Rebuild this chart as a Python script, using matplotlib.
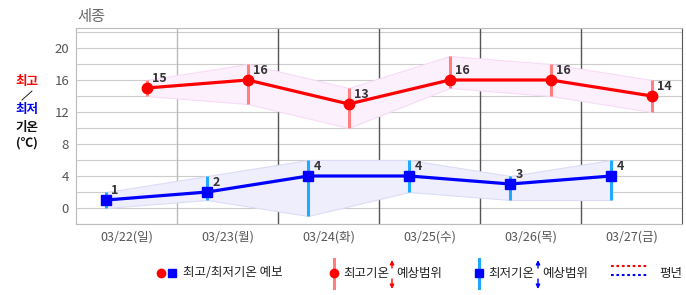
import matplotlib
matplotlib.use("Agg")
import matplotlib.pyplot as plt
import numpy as np

plt.rcParams['font.family'] = ['Noto Sans CJK KR', 'DejaVu Sans']

# data
days = ['03/22(일)', '03/23(월)', '03/24(화)', '03/25(수)', '03/26(목)', '03/27(금)']
high = [15, 16, 13, 16, 16, 14]
high_top = [16, 18, 15, 19, 18, 16]
high_bot = [14, 13, 10, 15, 14, 12]
low = [1, 2, 4, 4, 3, 4]
low_top = [2, 4, 6, 6, 4, 6]
low_bot = [0, 1, -1, 2, 1, 1]
yticks = [0, 4, 8, 12, 16, 20]

fig = plt.figure(figsize=(6.86, 2.95), dpi=100)
ax = fig.add_axes([76/686, 1 - 224/295, 606/686, 196/295])

pos = np.arange(len(days)) + 0.5
xh = pos + 0.2
xl = pos - 0.2

# shaded forecast ranges
ax.fill_between(xh, high_bot, high_top, facecolor='#fdf0fd', edgecolor='#f6dcf6', lw=0.8, zorder=1)
ax.fill_between(xl, low_bot, low_top, facecolor='#eeeefc', edgecolor='#dcdcf7', lw=0.8, zorder=1)

# range bars
ax.vlines(xh, high_bot, high_top, color='#ff7f7f', lw=2.2, zorder=2)
ax.vlines(xl, low_bot, low_top, color='#1eaaff', lw=2.2, zorder=2)

# forecast lines
ax.plot(xh, high, color='#ff0000', lw=2.3, marker='o', ms=7.5, zorder=3)
ax.plot(xl, low, color='#0000ff', lw=2.3, marker='s', ms=7, zorder=3)

for x, v in zip(xh, high):
    ax.annotate(str(v), (x, v), xytext=(5, 10), textcoords='offset pixels',
                fontsize=9, fontweight='bold', color='#333333', va='center', ha='left')
for x, v in zip(xl, low):
    ax.annotate(str(v), (x, v), xytext=(5, 10), textcoords='offset pixels',
                fontsize=9, fontweight='bold', color='#333333', va='center', ha='left')

ax.set_xlim(0, 6)
ax.set_ylim(-2, 22.5)
for g in range(-2, 23, 2):
    ax.axhline(g, color='#cccccc', lw=0.8, zorder=0)
ax.axvline(1, color='#bbbbbb', lw=1, zorder=0)
for vx in [2, 3, 4, 5]:
    ax.axvline(vx, color='#555555', lw=1, zorder=0)

ax.set_yticks(yticks)
ax.set_yticklabels([str(t) for t in yticks], fontsize=9.5, color='#555555')
ax.set_xticks(pos)
ax.set_xticklabels(days, fontsize=9, color='#555555')
ax.tick_params(length=0, pad=5)
for side in ['left', 'top', 'bottom']:
    ax.spines[side].set_color('#bbbbbb')
ax.spines['right'].set_color('#555555')

# overlay in pixel coords for title, side label and legend
ov = fig.add_axes([0, 0, 1, 1], facecolor='none')
ov.set_xlim(0, 686)
ov.set_ylim(295, 0)
ov.axis('off')

ov.text(77, 16, '세종', fontsize=11, color='#666666', va='center', ha='left')
ov.text(27, 81, '최고', fontsize=9, fontweight='bold', color='#ff0000', ha='center', va='center')
ov.plot([22, 32], [100, 91], color='black', lw=0.6)
ov.text(27, 110, '최저', fontsize=9, fontweight='bold', color='#0000ff', ha='center', va='center')
ov.text(27, 127, '기온', fontsize=9, fontweight='bold', color='#111111', ha='center', va='center')
ov.text(27, 143, '(℃)', fontsize=9, fontweight='bold', color='#111111', ha='center', va='center')

ly = 273
ov.plot([161], [ly], 'o', color='#ff0000', ms=6)
ov.plot([172], [ly], 's', color='#0000ff', ms=5.5)
ov.text(183, ly, '최고/최저기온 예보', fontsize=9, color='#222222', va='center')


def range_arrow(x, color):
    ov.annotate('', xy=(x, 260), xytext=(x, 268),
                arrowprops=dict(arrowstyle='-|>', color=color, lw=1, mutation_scale=6,
                                shrinkA=0, shrinkB=0))
    ov.annotate('', xy=(x, 289), xytext=(x, 279),
                arrowprops=dict(arrowstyle='-|>', color=color, lw=1, mutation_scale=6,
                                shrinkA=0, shrinkB=0))


ov.plot([334, 334], [259, 288], color='#ff7f7f', lw=2.2)
ov.plot([334], [ly], 'o', color='#ff0000', ms=6)
ov.text(343, ly, '최고기온', fontsize=9, color='#222222', va='center')
range_arrow(392, '#ff0000')
ov.text(396, ly, '예상범위', fontsize=9, color='#222222', va='center')

ov.plot([479, 479], [259, 288], color='#1eaaff', lw=2.2)
ov.plot([479], [ly], 's', color='#0000ff', ms=5.5)
ov.text(488, ly, '최저기온', fontsize=9, color='#222222', va='center')
range_arrow(538, '#0000ff')
ov.text(542, ly, '예상범위', fontsize=9, color='#222222', va='center')

ov.plot([611, 648], [266, 266], color='#ff0000', lw=1.5, ls=(0, (1.3, 1.3)))
ov.plot([611, 648], [275, 275], color='#0000ff', lw=1.5, ls=(0, (1.3, 1.3)))
ov.text(659, ly, '평년', fontsize=9, color='#222222', va='center')

fig.savefig('out.png', dpi=100)
